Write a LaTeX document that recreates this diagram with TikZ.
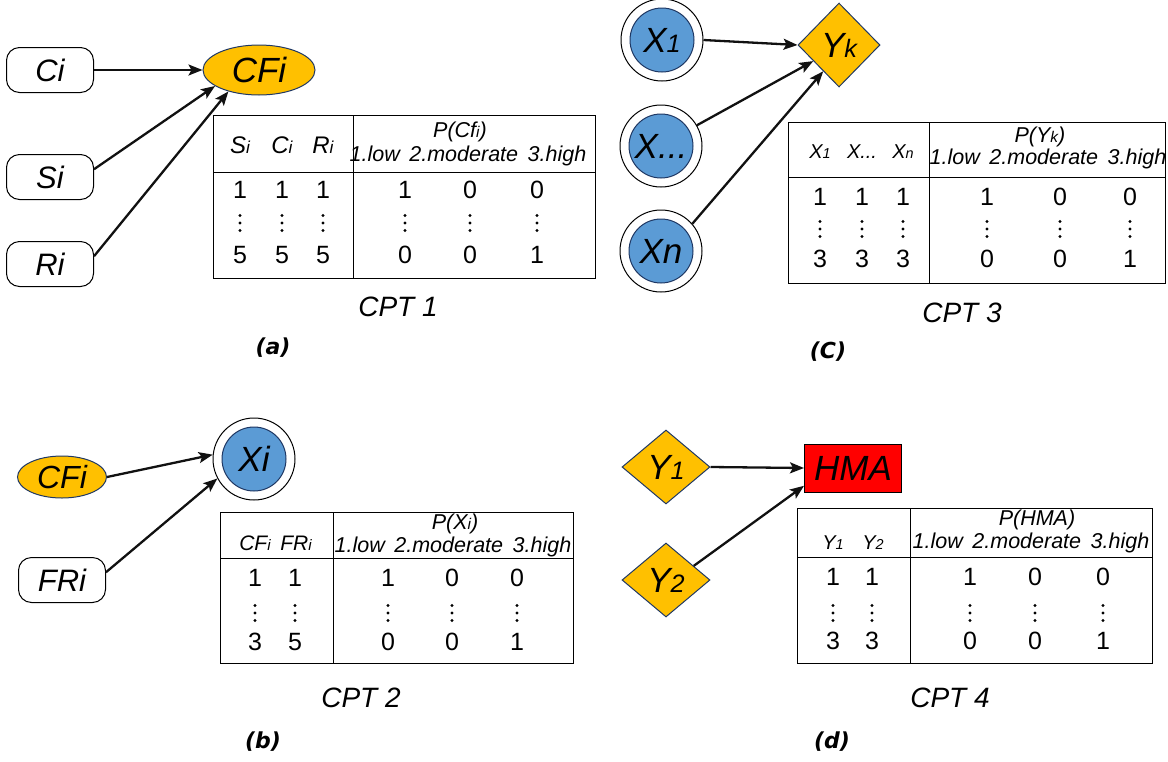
\documentclass[tikz,border=0pt]{standalone}
\usepackage{fontspec}
\setmainfont{Liberation Sans}
\newfontfamily\lblfamily{DejaVu Sans}
\usetikzlibrary{shapes.geometric,arrows.meta}
\definecolor{org}{HTML}{FFC000}
\definecolor{blu}{HTML}{5B9BD5}
\definecolor{nav}{HTML}{1F3864}
\definecolor{edg}{HTML}{111111}
\newcommand\nf{\fontsize{31}{33}\selectfont\itshape}
\newcommand\bnf{\fontsize{35}{37}\selectfont\itshape}
\newcommand\tf{\fontsize{21.5}{23}\selectfont\itshape}
\newcommand\df{\fontsize{25}{27}\selectfont}
\newcommand\cf{\fontsize{28}{30}\selectfont\itshape}
\newcommand\lf{\lblfamily\fontsize{22}{24}\selectfont\bfseries\itshape}
\newcommand\sbs[1]{\scalebox{0.72}{#1}}
\tikzset{
 rbox/.style={draw=black, line width=1pt, rounded corners=13pt, fill=white, minimum width=87pt, minimum height=45pt, inner sep=0pt, font=\nf},
 cfnode/.style={ellipse, draw=nav, line width=1pt, fill=org, inner sep=0pt, font=\bnf},
 outc/.style={circle, draw=black, line width=1pt, fill=white, minimum size=82pt, inner sep=0pt},
 inc/.style={circle, draw=nav, line width=1pt, fill=blu, minimum size=64pt, inner sep=0pt, font=\bnf},
 dia/.style={diamond, draw=nav, line width=1pt, fill=org, inner sep=0pt, font=\bnf},
 hmabox/.style={rectangle, draw=black, line width=1pt, fill=red, minimum width=97pt, minimum height=48pt, inner sep=0pt, font=\bnf},
 arr/.style={-{Stealth[length=14pt,width=11pt,inset=3pt]}, line width=2.3pt, draw=edg},
 tline/.style={line width=1pt, draw=black},
 th/.style={font=\tf, inner sep=0pt},
 td/.style={font=\df, inner sep=0pt},
 vd/.style={inner sep=0pt, minimum width=4pt, minimum height=19pt,
   path picture={\fill[black] ([yshift=-2pt]path picture bounding box.north) circle (1.6pt)
     (path picture bounding box.center) circle (1.6pt)
     ([yshift=2pt]path picture bounding box.south) circle (1.6pt);}},
 cptl/.style={font=\cf, inner sep=0pt},
 lbl/.style={font=\lf, inner sep=0pt},
}
\begin{document}
\begin{tikzpicture}[x=1pt,y=-1pt]
\useasboundingbox (0,0) rectangle (1168,761);
% ---------------- (a)
\node[rbox] (ci) at (50,70) {Ci};
\node[rbox] (si) at (50,177) {Si};
\node[rbox] (ri) at (50,264) {Ri};
\node[cfnode, minimum width=112pt, minimum height=50pt] (cf) at (259,70) {CFi};
\draw[arr] (ci.east) -- (cf.west);
\draw[arr] (si.10) -- (cf.200);
\draw[arr] (ri.10) -- (cf.215);
\draw[tline] (213,115) rectangle (595,278);
\draw[tline] (353,115) -- (353,278);
\draw[tline] (213,172) -- (595,172);
\node[th, font=\fontsize{24}{26}\selectfont\itshape] (ah1) at (240,145) {S\sbs{i}};
\node[th, font=\fontsize{24}{26}\selectfont\itshape] (ah2) at (282,145) {C\sbs{i}};
\node[th, font=\fontsize{24}{26}\selectfont\itshape] (ah3) at (323,145) {R\sbs{i}};
\node[th] (ap) at (460,132) {P(Cf\sbs{i})};
\node[th] (al) at (468,156) {1.low\, 2.moderate\, 3.high};
\node[td] (a11) at (240,190) {1}; \node[td] (a12) at (282,190) {1}; \node[td] (a13) at (323,190) {1};
\node[td] (a14) at (405,190) {1}; \node[td] (a15) at (470,190) {0}; \node[td] (a16) at (537,190) {0};
\node[vd] (a21) at (240,223) {}; \node[vd] (a22) at (282,223) {}; \node[vd] (a23) at (323,223) {};
\node[vd] (a24) at (405,223) {}; \node[vd] (a25) at (470,223) {}; \node[vd] (a26) at (537,223) {};
\node[td] (a31) at (240,255) {5}; \node[td] (a32) at (282,255) {5}; \node[td] (a33) at (323,255) {5};
\node[td] (a34) at (405,255) {0}; \node[td] (a35) at (470,255) {0}; \node[td] (a36) at (537,255) {1};
\node[cptl] (cpta) at (398,307) {CPT 1};
\node[lbl] (la) at (273,348) {(a)};
% ---------------- (c)
\node[outc] (x1) at (662,40) {};
\node[inc] (x1i) at (x1) {X\sbs{1}};
\node[outc] (xd) at (661,146) {};
\node[inc] (xdi) at (xd) {X...};
\node[outc] (xn) at (661,251) {};
\node[inc] (xni) at (xn) {Xn};
\node[dia, minimum width=82pt, minimum height=84pt] (yk) at (839,45) {Y\sbs{k}};
\draw[arr] (x1.east) -- (yk.west);
\draw[arr] (xd.30) -- (yk.212);
\draw[arr] (xn.41) -- (yk.239);
\draw[tline] (788,122) rectangle (1165,283);
\draw[tline] (929,122) -- (929,283);
\draw[tline] (788,177) -- (1165,177);
\node[th, font=\fontsize{20}{22}\selectfont\itshape] (ch1) at (820,152) {X\sbs{1}};
\node[th, font=\fontsize{20}{22}\selectfont\itshape] (ch2) at (862,152) {X...};
\node[th, font=\fontsize{20}{22}\selectfont\itshape] (ch3) at (903,152) {X\sbs{n}};
\node[th] (cp) at (1040,137) {P(Y\sbs{k})};
\node[th] (cl) at (1048,159) {1.low\, 2.moderate\, 3.high};
\node[td] (c11) at (820,197) {1}; \node[td] (c12) at (862,197) {1}; \node[td] (c13) at (903,197) {1};
\node[td] (c14) at (987,197) {1}; \node[td] (c15) at (1060,197) {0}; \node[td] (c16) at (1130,197) {0};
\node[vd] (c21) at (820,229) {}; \node[vd] (c22) at (862,229) {}; \node[vd] (c23) at (903,229) {};
\node[vd] (c24) at (987,229) {}; \node[vd] (c25) at (1060,229) {}; \node[vd] (c26) at (1130,229) {};
\node[td] (c31) at (820,259) {3}; \node[td] (c32) at (862,259) {3}; \node[td] (c33) at (903,259) {3};
\node[td] (c34) at (987,259) {0}; \node[td] (c35) at (1060,259) {0}; \node[td] (c36) at (1130,259) {1};
\node[cptl] (cptc) at (962,313) {CPT 3};
\node[lbl] (lc) at (828,352) {(C)};
% ---------------- (b)
\node[cfnode, minimum width=89pt, minimum height=42pt, font=\fontsize{32}{34}\selectfont\itshape] (cf2) at (62,477) {CFi};
\node[rbox] (fr) at (62,580) {FRi};
\node[outc] (xi) at (254,459) {};
\node[inc] (xii) at (xi) {Xi};
\draw[arr] (cf2.east) -- (xi.174);
\draw[arr] (fr.10) -- (xi.208);
\draw[tline] (220,512) rectangle (573,663);
\draw[tline] (333,512) -- (333,663);
\draw[tline] (220,558) -- (573,558);
\node[th, font=\fontsize{21}{23}\selectfont\itshape] (bh1) at (255,543) {CF\sbs{i}};
\node[th, font=\fontsize{21}{23}\selectfont\itshape] (bh2) at (296,543) {FR\sbs{i}};
\node[th] (bp) at (455,524) {P(X\sbs{i})};
\node[th] (bl) at (453,547) {1.low\, 2.moderate\, 3.high};
\node[td] (b11) at (255,578) {1}; \node[td] (b12) at (295,578) {1};
\node[td] (b14) at (388,578) {1}; \node[td] (b15) at (452,578) {0}; \node[td] (b16) at (517,578) {0};
\node[vd] (b21) at (255,613) {}; \node[vd] (b22) at (295,613) {};
\node[vd] (b24) at (388,613) {}; \node[vd] (b25) at (452,613) {}; \node[vd] (b26) at (517,613) {};
\node[td] (b31) at (255,642) {3}; \node[td] (b32) at (295,642) {5};
\node[td] (b34) at (388,642) {0}; \node[td] (b35) at (452,642) {0}; \node[td] (b36) at (517,642) {1};
\node[cptl] (cptb) at (361,698) {CPT 2};
\node[lbl] (lb) at (263,742) {(b)};
% ---------------- (d)
\node[dia, minimum width=88pt, minimum height=74pt] (y1) at (666,467) {Y\sbs{1}};
\node[dia, minimum width=88pt, minimum height=74pt] (y2) at (666,580) {Y\sbs{2}};
\node[hmabox] (hma) at (853,468) {HMA};
\draw[arr] (y1.east) -- (hma.west);
\draw[arr] (y2.27) -- (hma.200);
\draw[tline] (797,508) rectangle (1152,663);
\draw[tline] (910,508) -- (910,663);
\draw[tline] (797,557) -- (1152,557);
\node[th, font=\fontsize{20}{22}\selectfont\itshape] (dh1) at (833,543) {Y\sbs{1}};
\node[th, font=\fontsize{20}{22}\selectfont\itshape] (dh2) at (873,543) {Y\sbs{2}};
\node[th] (dp) at (1037,520) {P(HMA)};
\node[th] (dl) at (1031,543) {1.low\, 2.moderate\, 3.high};
\node[td] (d11) at (833,577) {1}; \node[td] (d12) at (872,577) {1};
\node[td] (d14) at (970,577) {1}; \node[td] (d15) at (1035,577) {0}; \node[td] (d16) at (1103,577) {0};
\node[vd] (d21) at (833,613) {}; \node[vd] (d22) at (872,613) {};
\node[vd] (d24) at (970,613) {}; \node[vd] (d25) at (1035,613) {}; \node[vd] (d26) at (1103,613) {};
\node[td] (d31) at (833,641) {3}; \node[td] (d32) at (872,641) {3};
\node[td] (d34) at (970,641) {0}; \node[td] (d35) at (1035,641) {0}; \node[td] (d36) at (1103,641) {1};
\node[cptl] (cptd) at (950,698) {CPT 4};
\node[lbl] (ld) at (832,742) {(d)};
\end{tikzpicture}
\end{document}
